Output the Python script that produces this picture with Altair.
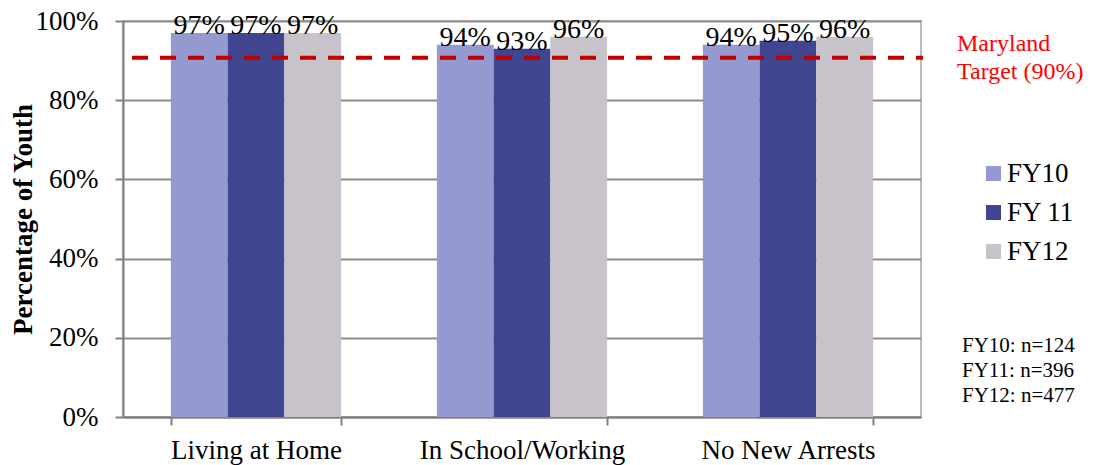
import altair as alt
import pandas as pd

categories = ["Living at Home", "In School/Working", "No New Arrests"]
series = ["FY10", "FY 11", "FY12"]
fy10 = [0.97, 0.94, 0.94]
fy11 = [0.97, 0.93, 0.95]
fy12 = [0.97, 0.96, 0.96]
colors = ["#9499CF", "#3F468F", "#C8C3CA"]
target_value = [0.907]
target_label = ["Maryland\nTarget (90%)"]
n_lines = ["FY10: n=124", "FY11: n=396", "FY12: n=477"]
y_ticks = [0, 0.2, 0.4, 0.6, 0.8, 1.0]

rows = []
for i, c in enumerate(categories):
    for s, vals in zip(series, [fy10, fy11, fy12]):
        rows.append({"category": c, "series": s, "value": vals[i]})
df = pd.DataFrame(rows)

W, H = 798, 396
FONT = "Liberation Serif"

x_enc = alt.X("category:N", sort=categories,
              scale=alt.Scale(paddingInner=0.36, paddingOuter=0.18),
              axis=alt.Axis(title=None, labelAngle=0, labelFontSize=27, labelColor="black",
                            labelFont=FONT, labelLimit=0,
                            labelPadding=12, tickBand="extent", tickSize=8, tickColor="#808080",
                            tickWidth=2, domainColor="#808080", domainWidth=2, grid=False))
y_enc = alt.Y("value:Q", scale=alt.Scale(domain=[0, 1]),
              axis=alt.Axis(title="Percentage of Youth", format=".0%", values=y_ticks,
                            labelFontSize=27, labelColor="black", labelPadding=17,
                            labelFont=FONT,
                            tickSize=8, tickColor="#808080", tickWidth=2,
                            domainColor="#808080", domainWidth=2,
                            gridColor="#8C8C8C", gridWidth=2,
                            titleFont=FONT,
                            titleFontSize=27, titleFontWeight="bold", titleColor="black",
                            titleX=-100, titleY=H / 2, titleAngle=-90,
                            titleAlign="center", titleBaseline="middle"))
xo = alt.XOffset("series:N", sort=series, scale=alt.Scale(paddingInner=0, paddingOuter=0))
color_enc = alt.Color("series:N", sort=series,
                      scale=alt.Scale(domain=series, range=colors),
                      legend=alt.Legend(title=None, orient="none", legendX=857, legendY=139,
                                        symbolType="square", symbolSize=225,
                                        symbolStrokeWidth=0, labelFontSize=27,
                                        labelFont=FONT,
                                        labelColor="black", labelOffset=0, rowPadding=11,
                                        padding=0, symbolOpacity=1))

bars = alt.Chart(df).mark_bar(opacity=1).encode(x=x_enc, xOffset=xo, y=y_enc, color=color_enc)

labels = alt.Chart(df).mark_text(baseline="alphabetic", dy=1, fontSize=28, color="black",
                                 font=FONT).encode(
    x=alt.X("category:N", sort=categories), xOffset=xo, y="value:Q",
    text=alt.Text("value:Q", format=".0%"))

target = alt.Chart(pd.DataFrame({"t": target_value})).mark_rule(
    color="#C00000", strokeWidth=4, strokeDash=[16, 12]).encode(
    y="t:Q", x=alt.value(9), x2=alt.value(W + 2))

target_text = alt.Chart(pd.DataFrame({"label": target_label})).mark_text(
    align="left", baseline="alphabetic", fontSize=24, color="#FF0000", font=FONT,
    lineBreak="\n", lineHeight=28).encode(
    text="label:N", x=alt.value(834), y=alt.value(30))

n_text = alt.Chart(pd.DataFrame({"label": ["\n".join(n_lines)]})).mark_text(
    align="left", baseline="alphabetic", fontSize=21, color="black", font=FONT,
    lineBreak="\n", lineHeight=25).encode(
    text="label:N", x=alt.value(839), y=alt.value(331))

chart = alt.layer(bars, labels, target, target_text, n_text).properties(
    width=W, height=H,
    autosize=alt.AutoSizeParams(type="none"),
    padding={"left": 123, "top": 21, "right": 1097 - 123 - W, "bottom": 465 - 21 - H},
).configure(font=FONT).configure_view(stroke="#BBBBBB", strokeWidth=2)

chart.save("out.html", embed_options={"renderer": "svg", "actions": False})
